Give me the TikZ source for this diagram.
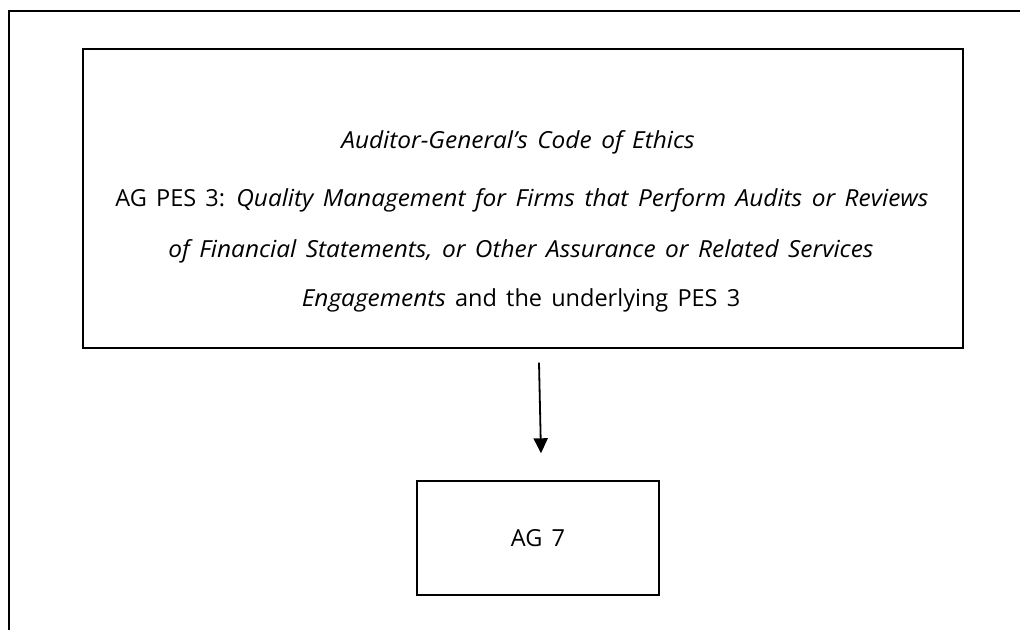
\documentclass[tikz,border=0pt]{standalone}
\usepackage{fontspec}
\setmainfont{Open Sans}[WordSpace=1.5, ItalicFeatures={FakeStretch=1.04}]
\usetikzlibrary{arrows.meta}
\begin{document}
\begin{tikzpicture}[x=1pt,y=-1pt,
  frame/.style={line width=1.4pt},
  box/.style={draw, line width=1.4pt, inner sep=0pt},
  txt/.style={inner sep=0pt, anchor=base, font=\fontsize{23.5}{28}\selectfont},
  arr/.style={line width=1.8pt, -{Triangle[width=14pt,length=15pt]}}]
\useasboundingbox (0,0) rectangle (1020,630);
\coordinate (ftl) at (9,11);
\coordinate (ftr) at (1020,11);
\coordinate (fbl) at (9,630);
\draw[frame] (ftr) -- (ftl) -- (fbl);
\node[box, minimum width=880pt, minimum height=299pt] (big) at (523,198.5) {};
\node[txt] (t1) at (518,148) {\itshape Auditor-General’s Code of Ethics};
\node[txt] (t2) at (522,206) {AG PES 3: \itshape Quality Management for Firms that Perform Audits or Reviews};
\node[txt] (t3) at (521,257) {\itshape of Financial Statements, or Other Assurance or Related Services};
\node[txt] (t4) at (521,306) {\textit{Engagements} and the underlying PES 3};
\node[box, minimum width=242pt, minimum height=114pt] (small) at (538,538) {};
\node[txt] (t5) at (538,546) {AG 7};
\draw[arr] ([xshift=1pt,yshift=-14pt]big.south -| small.north) -- ([xshift=3pt,yshift=27pt]small.north);
\end{tikzpicture}
\end{document}
